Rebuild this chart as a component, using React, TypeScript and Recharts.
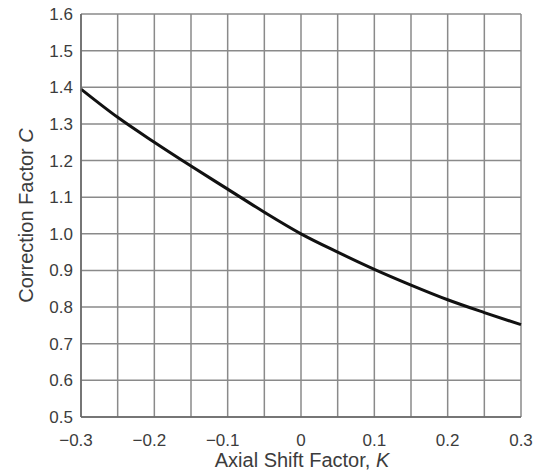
import React from 'react';
import { LineChart, Line, XAxis, YAxis, CartesianGrid, Label } from 'recharts';

const kValues = [-0.3, -0.25, -0.2, -0.15, -0.1, -0.05, 0, 0.05, 0.1, 0.15, 0.2, 0.25, 0.3];
const cValues = [1.395, 1.318, 1.25, 1.185, 1.122, 1.059, 1.0, 0.95, 0.903, 0.86, 0.82, 0.785, 0.752];
const xTicks = [-0.3, -0.25, -0.2, -0.15, -0.1, -0.05, 0, 0.05, 0.1, 0.15, 0.2, 0.25, 0.3];
const yTicks = [0.5, 0.6, 0.7, 0.8, 0.9, 1.0, 1.1, 1.2, 1.3, 1.4, 1.5, 1.6];
const xTitle = 'Axial Shift Factor, ';
const xTitleVar = 'K';
const yTitle = 'Correction Factor ';
const yTitleVar = 'C';

const data = kValues.map((k, i) => ({ k, c: cValues[i] }));

const FONT = '"Liberation Sans", Arial, sans-serif';
const TEXT = '#3c3c3c';
const TICK_SIZE = 17;
const TITLE_SIZE = 20;

const XTick = (props: any) => {
  const { x, y, payload } = props;
  const r = Math.round(payload.value * 100);
  if (r % 10 !== 0) return null;
  const neg = r < 0;
  const label = r === 0 ? '0' : (neg ? '\u2212' : '') + (Math.abs(r) / 100).toFixed(1);
  return (
    <text x={x} y={y} dx={neg ? -5 : 0} dy="0.71em" textAnchor="middle" fill={TEXT} fontSize={TICK_SIZE} fontFamily={FONT}>
      {label}
    </text>
  );
};

const YTick = (props: any) => {
  const { x, y, payload } = props;
  return (
    <text x={x} y={y} dy="0.355em" textAnchor="end" fill={TEXT} fontSize={TICK_SIZE} fontFamily={FONT}>
      {Number(payload.value).toFixed(1)}
    </text>
  );
};

const XTitle = (props: any) => {
  const vb = props.viewBox;
  const cx = vb.x + vb.width / 2 + 1;
  return (
    <text x={cx} y={467} textAnchor="middle" fill={TEXT} fontSize={TITLE_SIZE} fontFamily={FONT}>
      {xTitle}
      <tspan fontStyle="italic">{xTitleVar}</tspan>
    </text>
  );
};

const YTitle = (props: any) => {
  const vb = props.viewBox;
  const cy = vb.y + vb.height / 2;
  const x = 33;
  return (
    <text x={x} y={cy} transform={`rotate(-90, ${x}, ${cy})`} textAnchor="middle" fill={TEXT} fontSize={TITLE_SIZE} fontFamily={FONT}>
      {yTitle}
      <tspan fontStyle="italic">{yTitleVar}</tspan>
    </text>
  );
};

export default function App() {
  return (
    <div style={{ position: 'absolute', left: 0, top: 0, background: '#fff' }}>
      <LineChart width={542} height={473} data={data} margin={{ top: 14, right: 21, bottom: 0, left: 0 }}>
        <CartesianGrid stroke="#8a8a8a" strokeWidth={1.5} />
        <XAxis
          dataKey="k"
          type="number"
          domain={[-0.3, 0.3]}
          ticks={xTicks}
          tick={<XTick />}
          tickLine={false}
          tickMargin={11}
          axisLine={{ stroke: '#666', strokeWidth: 1.5 }}
          height={56}
          interval={0}
        >
          <Label content={<XTitle />} />
        </XAxis>
        <YAxis
          type="number"
          domain={[0.5, 1.6]}
          ticks={yTicks}
          tick={<YTick />}
          tickLine={false}
          axisLine={{ stroke: '#666', strokeWidth: 1.5 }}
          width={81}
          interval={0}
        >
          <Label content={<YTitle />} />
        </YAxis>
        <Line
          dataKey="c"
          type="monotone"
          stroke="#111"
          strokeWidth={3}
          dot={false}
          isAnimationActive={false}
        />
      </LineChart>
    </div>
  );
}
